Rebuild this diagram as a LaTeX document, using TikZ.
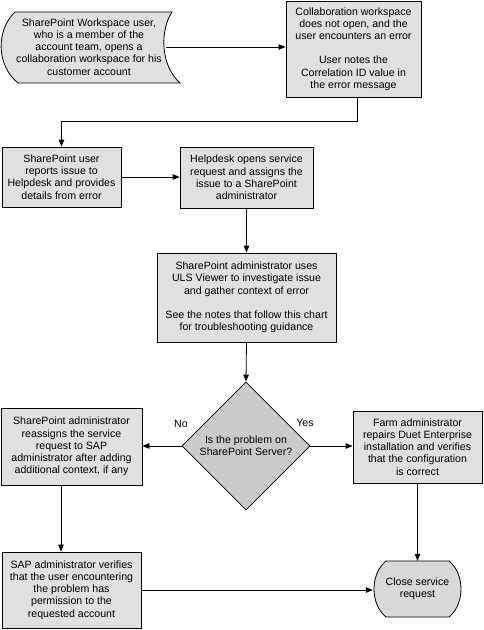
\documentclass[tikz,border=0pt]{standalone}
\usepackage{fontspec}
\setmainfont{Liberation Sans}
\usetikzlibrary{arrows.meta,shapes.geometric}
\definecolor{boxfill}{HTML}{E0E0E0}
\definecolor{diafill}{HTML}{CBCBCB}
\definecolor{termfill}{HTML}{D9D9D9}
\begin{document}
\begin{tikzpicture}[x=1pt,y=-1pt,
  every node/.style={font=\fontsize{10.6}{12.2}\selectfont, align=center, inner sep=0pt},
  procbox/.style={draw=black, line width=0.8pt, fill=boxfill},
  decbox/.style={draw=black, line width=0.8pt, fill=diafill, diamond, aspect=1},
  shapeline/.style={draw=black, line width=0.8pt},
  arr/.style={draw=black, line width=0.8pt, -{Triangle[length=7pt,width=5.5pt]}},
  lbl/.style={font=\fontsize{10.6}{12.2}\selectfont}]
\useasboundingbox (0,0) rectangle (484,630);
\fill[white] (0,0) rectangle (484,630);

% start shape (stored data like)
\draw[shapeline, fill=boxfill] (15,12) -- (172,12) .. controls (160,30) and (160,65) .. (180,83)
  -- (18,83) .. controls (-4,65) and (-4,30) .. (15,12) -- cycle;
\node (start) at (89,47) {SharePoint Workspace user,\\who is a member of the\\account team, opens a\\collaboration workspace for his\\customer account};
\coordinate (startR) at (166,47);

\node[procbox, minimum width=135pt, minimum height=96pt] (box2) at (353.5,49)
  {Collaboration workspace\\does not open, and the\\user encounters an error\\[12.2pt]User notes the\\Correlation ID value in\\the error message};

\node[procbox, minimum width=119pt, minimum height=60pt] (box3) at (61.5,177)
  {SharePoint user\\reports issue to\\Helpdesk and provides\\details from error};

\node[procbox, minimum width=133pt, minimum height=61pt] (box4) at (246.5,177.5)
  {Helpdesk opens service\\request and assigns the\\issue to a SharePoint\\administrator};

\node[procbox, minimum width=179pt, minimum height=89pt] (box5) at (246.5,297.5)
  {SharePoint administrator uses\\ULS Viewer to investigate issue\\and gather context of error\\[12.2pt]See the notes that follow this chart\\for troubleshooting guidance};

\node[decbox, minimum width=128pt, minimum height=128pt] (dia) at (246,446)
  {Is the problem on\\SharePoint Server?};

\node[procbox, minimum width=141pt, minimum height=77pt] (box6) at (71.5,446.5)
  {SharePoint administrator\\reassigns the service\\request to SAP\\administrator after adding\\additional context, if any};

\node[procbox, minimum width=129pt, minimum height=72pt] (box7) at (417.5,447)
  {Farm administrator\\repairs Duet Enterprise\\installation and verifies\\that the configuration\\is correct};

\node[procbox, minimum width=139pt, minimum height=76pt] (box8) at (71.5,590)
  {SAP administrator verifies\\that the user encountering\\the problem has\\permission to the\\requested account};

% terminator
\draw[shapeline, fill=termfill] (386,561) -- (449,561) .. controls (465,574) and (465,604) .. (449,617)
  -- (386,617) .. controls (370,604) and (370,574) .. (386,561) -- cycle;
\node[minimum width=89pt, minimum height=56pt] (term) at (417.5,589) {Close service\\request};

% labels
\node[lbl] (nolbl) at (181,424) {No};
\node[lbl] (yeslbl) at (305,423) {Yes};

% connectors
\draw[arr] (startR) -- (startR -| box2.west);
\draw[arr] ([xshift=3.5pt]box2.south) -- ++(0,24) -| (box3.north);
\draw[arr] (box3.east) -- (box3.east -| box4.west);
\draw[arr] (box4.south) -- (box5.north);
\draw[arr] (box5.south) -- (dia.north);
\draw[arr] (dia.west) -- (dia.west -| box6.east);
\draw[arr] (dia.east) -- (dia.east -| box7.west);
\draw[arr] ([xshift=-10.5pt]box6.south) -- ([xshift=-10.5pt]box6.south |- box8.north);
\draw[arr] (box7.south) -- (term.north);
\draw[arr] (box8.east) -- (box8.east -| term.west);
\end{tikzpicture}
\end{document}
